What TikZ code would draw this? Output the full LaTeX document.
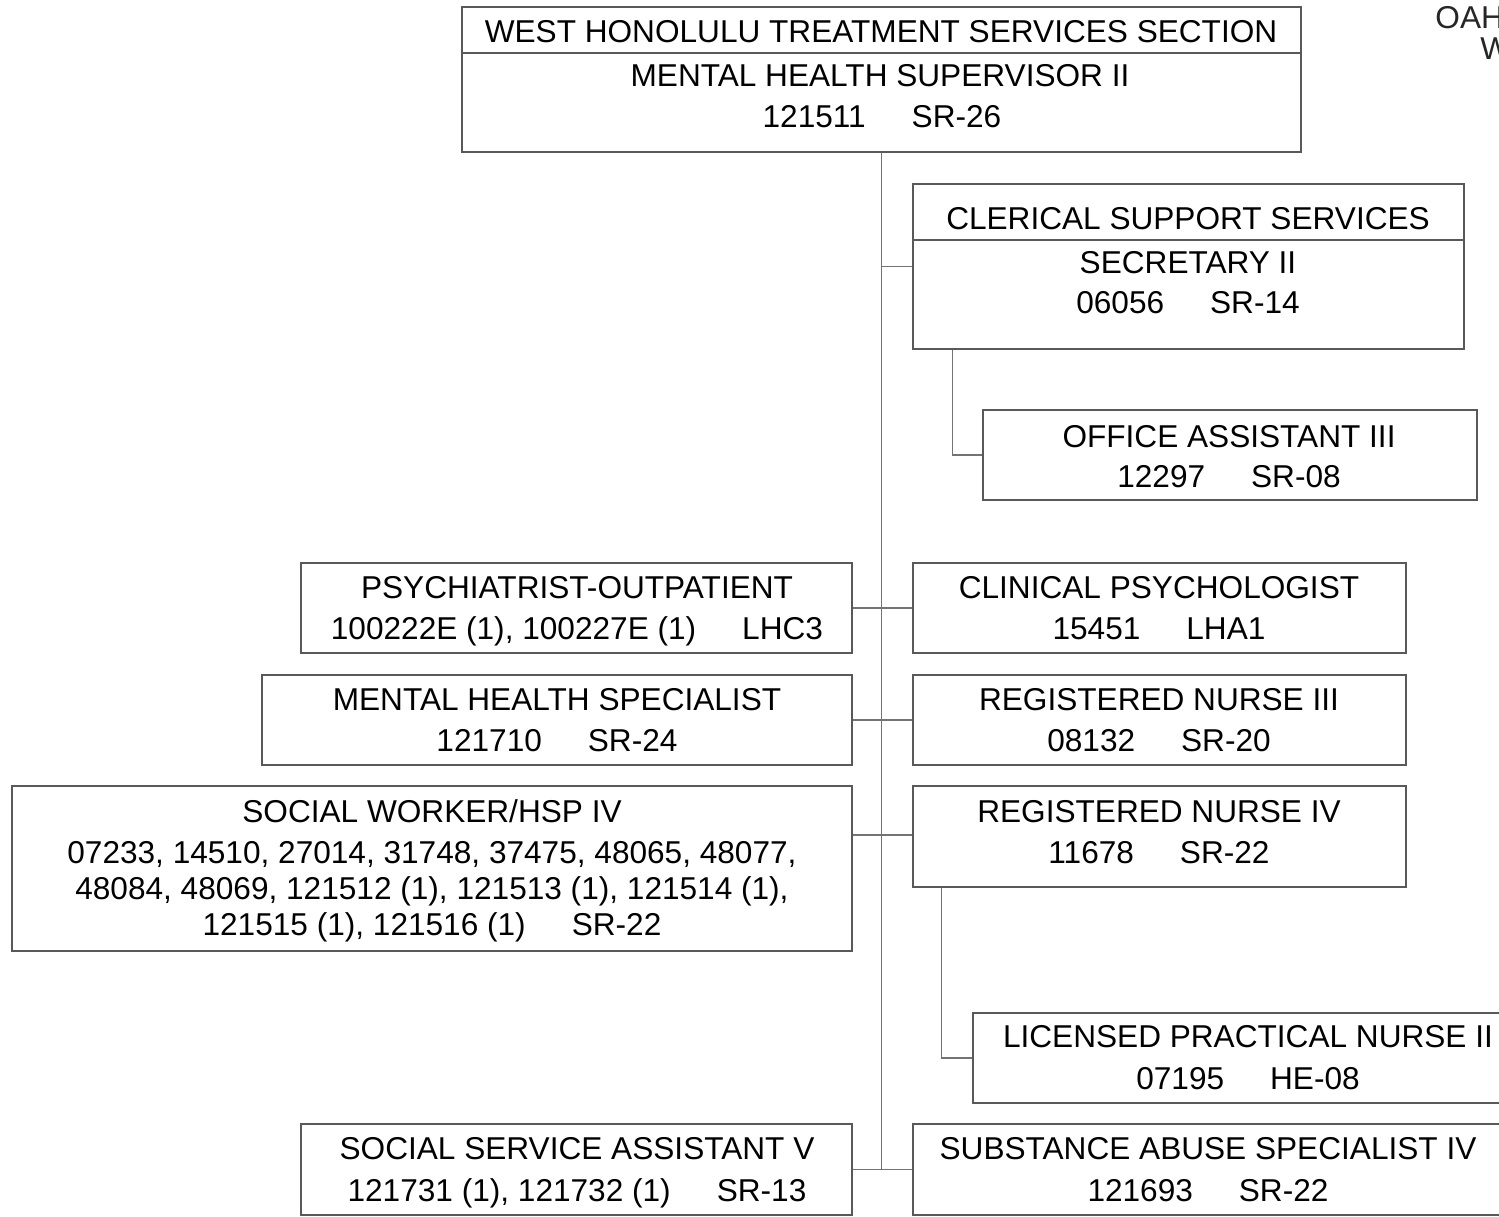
\documentclass[tikz,border=0pt]{standalone}
\usepackage{fontspec}
\setmainfont{Liberation Sans}
\usetikzlibrary{fit}
\newcommand{\gp}{\hspace{23pt}}
\begin{document}
\begin{tikzpicture}[x=0.5pt,y=-0.5pt,
  box/.style={draw=black!65, line width=0.6pt, inner sep=0pt, rectangle},
  conn/.style={draw=black!55, line width=0.6pt},
  ln/.style={anchor=base, inner sep=0pt, font=\fontsize{15.8pt}{19pt}\selectfont, text=black}]
\useasboundingbox (0,0) rectangle (1499,1216);
\fill[white] (0,0) rectangle (1499,1216);
\clip (0,0) rectangle (1499,1216);

% boxes
\node[box, fit={(462,7) (1301,152)}] (top) {};
\node[box, fit={(913,184) (1464,349)}] (cler) {};
\node[box, fit={(983,410) (1477,500)}] (oa) {};
\node[box, fit={(301,563) (852,653)}] (psy) {};
\node[box, fit={(913,563) (1406,653)}] (cp) {};
\node[box, fit={(262,675) (852,765)}] (mhs) {};
\node[box, fit={(913,675) (1406,765)}] (rn3) {};
\node[box, fit={(12,786) (852,951)}] (sw) {};
\node[box, fit={(913,786) (1406,887)}] (rn4) {};
\node[box, fit={(973,1013) (1524,1103)}] (lpn) {};
\node[box, fit={(301,1124) (852,1215)}] (ssa) {};
\node[box, fit={(913,1124) (1504,1215)}] (sas) {};

% header dividers
\draw[draw=black!65, line width=0.6pt] (top.west |- 0,53) -- (top.east |- 0,53);
\draw[draw=black!65, line width=0.6pt] (cler.west |- 0,240) -- (cler.east |- 0,240);

% connectors
\draw[conn] (top.south) -- (top.south |- ssa.east);
\draw[conn] (top.south |- cler.west) -- (cler.west);
\draw[conn] (cler.south west) ++(40,0) |- (oa.west);
\draw[conn] (psy.east) -- (cp.west);
\draw[conn] (mhs.east) -- (rn3.west);
\draw[conn] (sw.east |- 0,835) -- (rn4.west |- 0,835);
\draw[conn] (rn4.south west) ++(29,0) |- (lpn.west);
\draw[conn] (ssa.east) -- (sas.west);

% texts
\node[ln] (t1) at (881,42) {WEST HONOLULU TREATMENT SERVICES SECTION};
\node[ln] (t2) at (880,86) {MENTAL HEALTH SUPERVISOR II};
\node[ln] (t3) at (882,127) {121511\gp SR-26};

\node[ln] (c1) at (1188,229) {CLERICAL SUPPORT SERVICES};
\node[ln] (c2) at (1188,273) {SECRETARY II};
\node[ln] (c3) at (1188,313) {06056\gp SR-14};

\node[ln] (o1) at (1229,447) {OFFICE ASSISTANT III};
\node[ln] (o2) at (1229,487) {12297\gp SR-08};

\node[ln] (p1) at (577,598) {PSYCHIATRIST-OUTPATIENT};
\node[ln] (p2) at (577,639) {100222E (1), 100227E (1)\gp LHC3};

\node[ln] (cp1) at (1159,598) {CLINICAL PSYCHOLOGIST};
\node[ln] (cp2) at (1159,639) {15451\gp LHA1};

\node[ln] (m1) at (557,710) {MENTAL HEALTH SPECIALIST};
\node[ln] (m2) at (557,751) {121710\gp SR-24};

\node[ln] (r1) at (1159,710) {REGISTERED NURSE III};
\node[ln] (r2) at (1159,751) {08132\gp SR-20};

\node[ln] (s1) at (432,822) {SOCIAL WORKER/HSP IV};
\node[ln] (s2) at (432,863) {07233, 14510, 27014, 31748, 37475, 48065, 48077,};
\node[ln] (s3) at (432,899) {48084, 48069, 121512 (1), 121513 (1), 121514 (1),};
\node[ln] (s4) at (432,935) {121515 (1), 121516 (1)\gp SR-22};

\node[ln] (n1) at (1159,822) {REGISTERED NURSE IV};
\node[ln] (n2) at (1159,863) {11678\gp SR-22};

\node[ln] (l1) at (1248,1047) {LICENSED PRACTICAL NURSE II};
\node[ln] (l2) at (1248,1089) {07195\gp HE-08};

\node[ln] (a1) at (577,1159) {SOCIAL SERVICE ASSISTANT V};
\node[ln] (a2) at (577,1201) {121731 (1), 121732 (1)\gp SR-13};

\node[ln] (b1) at (1208,1159) {SUBSTANCE ABUSE SPECIALIST IV};
\node[ln] (b2) at (1208,1201) {121693\gp SR-22};

\node[ln, anchor=base west, text=black!85] (oahu) at (1435,28) {OAHU};
\node[ln, anchor=base west, text=black!85] (w) at (1480,59) {W};
\end{tikzpicture}
\end{document}
